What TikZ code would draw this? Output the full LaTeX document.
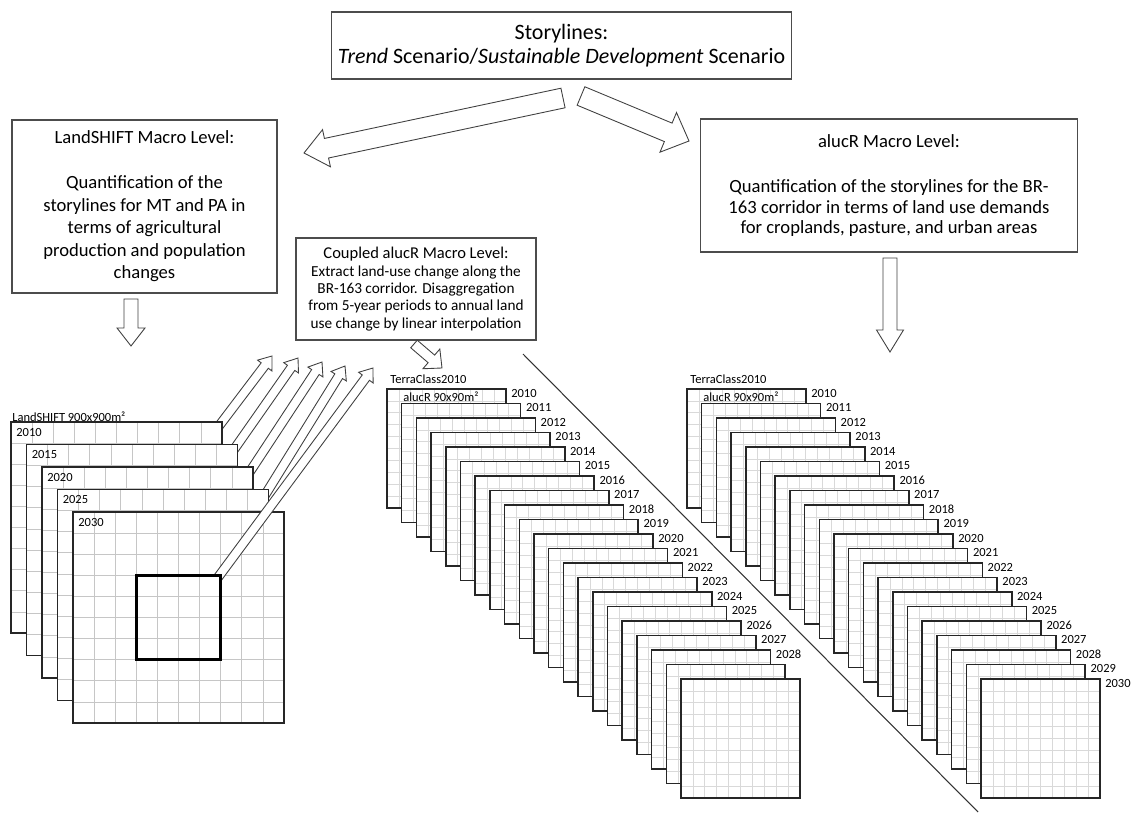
\documentclass[tikz,border=0pt]{standalone}
\usepackage{fontspec}
\setmainfont{Carlito}
\usetikzlibrary{calc, positioning}
\tikzstyle{box}=[draw=black!70, fill=white, rectangle, line width=0.6pt, align=center, inner sep=0pt]
\tikzstyle{tiny}=[font=\fontsize{7.1}{8.5}\selectfont, inner sep=0pt]
\tikzstyle{fat}=[draw=black!75, fill=white, line width=0.5pt]
\tikzstyle{cut}=[draw=black!80, line width=0.6pt]
\tikzset{gridline/.style={gray!30, line width=0.4pt},
  sheet/.style 2 args={draw=black!85, fill=white, line width=0.9pt, rectangle, inner sep=0pt,
    outer sep=0pt, anchor=north west, minimum size=#1, path picture={\gridlines{#2}}}}
% grid of #1 x #1 cells inside a node
\newcommand{\gridlines}[1]{%
  \pgfmathtruncatemacro\gl{#1-1}%
  \foreach \k in {1,...,\gl}{%
    \draw[gridline] ($(path picture bounding box.south west)!\k/#1!(path picture bounding box.south east)$)
      -- ($(path picture bounding box.north west)!\k/#1!(path picture bounding box.north east)$);
    \draw[gridline] ($(path picture bounding box.south west)!\k/#1!(path picture bounding box.north west)$)
      -- ($(path picture bounding box.south east)!\k/#1!(path picture bounding box.north east)$);}}
% hollow arrow: tail, tip, half shaft, half head, head length
\newcommand{\fatarrow}[5]{%
  \draw[fat] ($(#1)!#3!90:(#2)$) -- ($($(#2)!#5!(#1)$)!#3!-90:(#1)$)
    -- ($($(#2)!#5!(#1)$)!#4!-90:(#1)$) -- (#2)
    -- ($($(#2)!#5!(#1)$)!#4!90:(#1)$) -- ($($(#2)!#5!(#1)$)!#3!90:(#1)$)
    -- ($(#1)!#3!-90:(#2)$) -- cycle;}

\begin{document}
\begin{tikzpicture}[x=0.02cm, y=-0.02cm]
\useasboundingbox (0,0) rectangle (1134,814);

\node[box, minimum width=9.22cm, minimum height=1.34cm, font=\fontsize{12.5}{13.7}\selectfont] (story) at (561.5,45.5)
  {Storylines:\\\textit{Trend} Scenario/\textit{Sustainable Development} Scenario};
\node[box, minimum width=5.3cm, minimum height=3.46cm, font=\fontsize{10.6}{12.8}\selectfont] (landshift) at (144.5,206.5)
  {LandSHIFT Macro Level:\\[12.8pt]Quantification of the\\storylines for MT and PA in\\terms of agricultural\\production and population\\changes};
\node[box, minimum width=7.56cm, minimum height=2.66cm, font=\fontsize{10.6}{11.8}\selectfont] (alucr) at (889,185.5)
  {alucR Macro Level:\\[14pt]Quantification of the storylines for the BR-\\163 corridor in terms of land use demands\\for croplands, pasture, and urban areas};
\node[box, minimum width=4.8cm, minimum height=2.04cm, font=\fontsize{8.7}{9.85}\selectfont] (coupled) at (416,289)
  {{\fontsize{9.4}{9.85}\selectfont Coupled alucR Macro Level:}\\Extract land-use change along the\\BR-163 corridor. Disaggregation\\from 5-year periods to annual land\\use change by linear interpolation};

% scenario arrows
\coordinate (sL) at (563,98);  \coordinate (eL) at (304,153);
\coordinate (sR) at (581,96);  \coordinate (eR) at (689,141);
\fatarrow{sL}{eL}{0.2cm}{0.38cm}{0.46cm}
\fatarrow{sR}{eR}{0.2cm}{0.43cm}{0.45cm}
\coordinate (dL) at (131,299); \coordinate (dLt) at (131,346);
\coordinate (dR) at (890,258); \coordinate (dRt) at (890,352);
\coordinate (dM) at (414,344); \coordinate (dMt) at (442,368);
\fatarrow{dL}{dLt}{0.14cm}{0.28cm}{0.36cm}
\fatarrow{dR}{dRt}{0.14cm}{0.27cm}{0.44cm}
\fatarrow{dM}{dMt}{0.1cm}{0.26cm}{0.28cm}

% LandSHIFT stack, arrows start under the sheets
\foreach \i/\tx/\ty in {0/272/356, 1/298/358, 2/322/362, 3/345/366}{
  \coordinate (t\i) at (\tx,\ty);
  \coordinate (c\i) at ($({222+15.5*\i},{422+22.5*\i})!-0.16cm!(t\i)$);
  \fatarrow{c\i}{t\i}{0.09cm}{0.18cm}{0.24cm}}
\begin{scope}[gridline/.style={gray!45, line width=0.4pt}]
\foreach \i/\yr in {0/2010,1/2015,2/2020,3/2025,4/2030}{
  \node[sheet={4.22cm}{10}] (ls\i) at ({11+15.5*\i},{422+22.5*\i}) {};
  \node[tiny, anchor=west] at ([xshift=0.1cm, yshift=-0.2cm]ls\i.north west) {\yr};}
\coordinate (t4) at (373,368);
\coordinate (c4) at ($($(ls4.north west)+(147.3,62.3)$)!-0.16cm!(t4)$);
\fatarrow{c4}{t4}{0.09cm}{0.18cm}{0.24cm}
\node[sheet={1.69cm}{4}, line width=1.5pt, draw=black] (focus) at ($(ls4.north west)+(63.3,63.3)$) {};
\end{scope}
\node[tiny, anchor=west] at ([xshift=0.02cm, yshift=0.1cm]ls0.north west) {LandSHIFT 900x900m²};

% coupled alucR stack
\foreach \i in {0,...,20}{
  \node[sheet={2.38cm}{10}] (ms\i) at ({387+14.7*\i},{389+14.5*\i}) {};
  \ifnum\i<19 \pgfmathtruncatemacro\yr{2010+\i}
    \node[tiny, anchor=west] at ([xshift=0.1cm, yshift=-0.08cm]ms\i.north east) {\yr};\fi}
\node[tiny, anchor=west] at ([xshift=0.06cm, yshift=0.2cm]ms0.north west) {TerraClass2010};
\node[tiny, anchor=west] at ([xshift=0.32cm, yshift=-0.16cm]ms0.north west) {alucR 90x90m²};

% alucR stack
\foreach \i in {0,...,20}{
  \node[sheet={2.38cm}{10}] (rs\i) at ({687+14.7*\i},{389+14.5*\i}) {};
  \pgfmathtruncatemacro\yr{2010+\i}
  \node[tiny, anchor=west] at ([xshift=0.1cm, yshift=-0.08cm]rs\i.north east) {\yr};}
\node[tiny, anchor=west] at ([xshift=0.06cm, yshift=0.2cm]rs0.north west) {TerraClass2010};
\node[tiny, anchor=west] at ([xshift=0.32cm, yshift=-0.16cm]rs0.north west) {alucR 90x90m²};

\coordinate (d1) at (523,354); \coordinate (d2) at (978,812);
\draw[cut] (d1) -- (d2);
\end{tikzpicture}
\end{document}
